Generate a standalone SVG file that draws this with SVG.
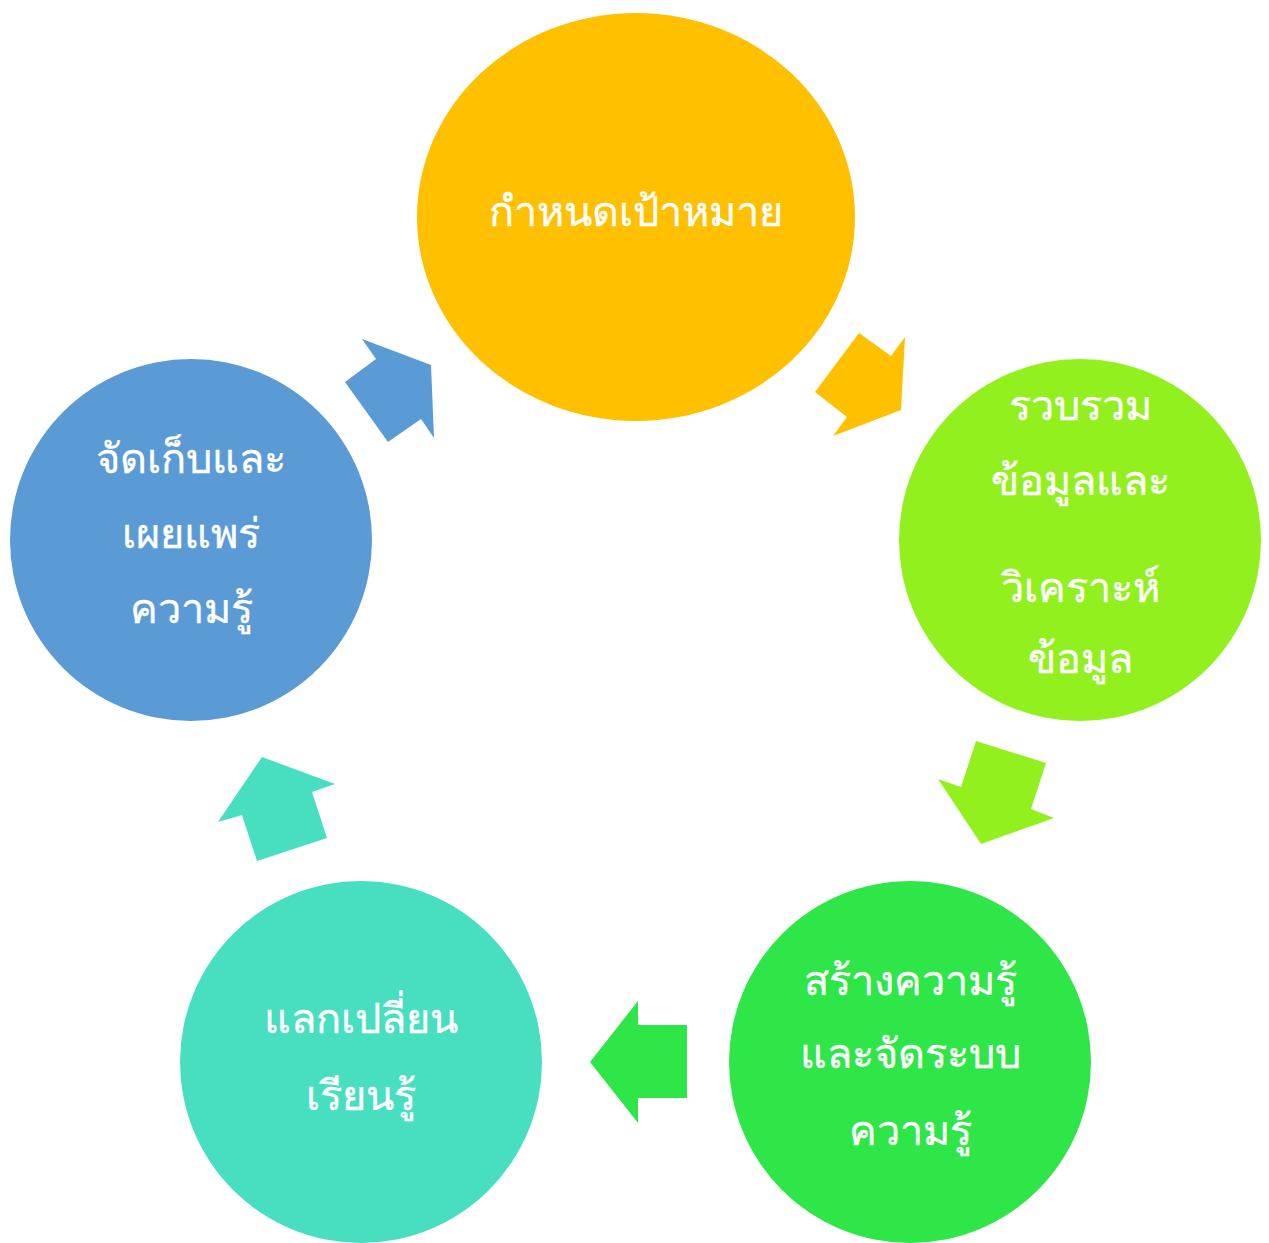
<svg xmlns="http://www.w3.org/2000/svg" width="1269" height="1243" viewBox="0 0 1269 1243">
<style>
.lbl{font-family:"Noto Sans","DejaVu Sans",sans-serif;font-size:41.5px;fill:#ffffff;stroke:#ffffff;stroke-width:0.35px;text-anchor:middle;}
</style>
<rect width="1269" height="1243" fill="#ffffff"/>
<g id="connectors">
<polygon fill="#FFC000" points="859,333 891,356 905,337 901,410 833,436 847,417 815,392"/>
<polygon fill="#92F01E" points="976,741 1046,763 1031,809 1054,818 981,844 938,779 961,787"/>
<polygon fill="#2EE647" points="638,1001 638,1025 687,1025 687,1098 638,1098 638,1123 590,1062"/>
<polygon fill="#48DEC0" points="262,757 335,784 312,792 327,838 257,861 242,815 218,822"/>
<polygon fill="#5B9BD5" points="362,339 431,365 434,438 421,419 388,442 345,382 376,359"/>
</g>
<g id="node-goal">
<ellipse cx="636" cy="217" rx="219" ry="204" fill="#FFC000"/>
<text class="lbl" x="636" y="226">กำหนดเป้าหมาย</text>
</g>
<g id="node-collect">
<circle cx="1080" cy="540" r="181" fill="#92F01E"/>
<text class="lbl" x="1080" y="420">รวบรวม</text>
<text class="lbl" x="1080" y="495">ข้อมูลและ</text>
<text class="lbl" x="1080" y="602">วิเคราะห์</text>
<text class="lbl" x="1080" y="673">ข้อมูล</text>
</g>
<g id="node-create">
<circle cx="910" cy="1062" r="181" fill="#2EE647"/>
<text class="lbl" x="910" y="995">สร้างความรู้</text>
<text class="lbl" x="910" y="1068">และจัดระบบ</text>
<text class="lbl" x="910" y="1145">ความรู้</text>
</g>
<g id="node-share">
<circle cx="361" cy="1062" r="181" fill="#48DEC0"/>
<text class="lbl" x="361" y="1033">แลกเปลี่ยน</text>
<text class="lbl" x="361" y="1110">เรียนรู้</text>
</g>
<g id="node-store">
<circle cx="191" cy="540" r="181" fill="#5B9BD5"/>
<text class="lbl" x="191" y="473">จัดเก็บและ</text>
<text class="lbl" x="191" y="548">เผยแพร่</text>
<text class="lbl" x="191" y="623">ความรู้</text>
</g>
</svg>
